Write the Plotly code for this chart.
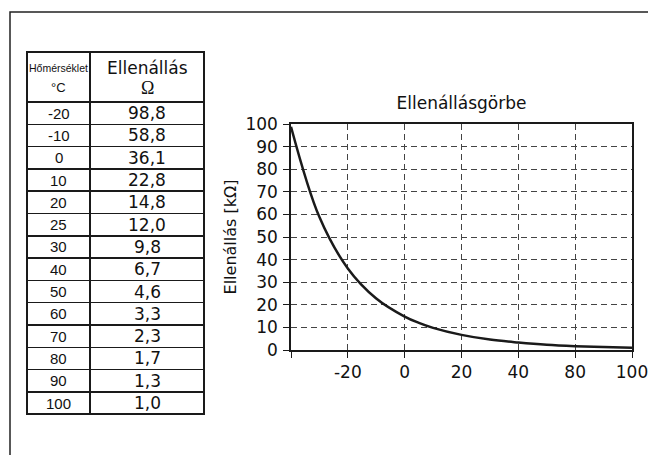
import plotly.graph_objects as go

W, H = 648, 455

temps = [-20, -10, 0, 10, 20, 25, 30, 40, 50, 60, 70, 80, 90, 100]
resist = [98.8, 58.8, 36.1, 22.8, 14.8, 12.0, 9.8, 6.7, 4.6, 3.3, 2.3, 1.7, 1.3, 1.0]
resist_txt = ["98,8", "58,8", "36,1", "22,8", "14,8", "12,0", "9,8", "6,7", "4,6", "3,3", "2,3", "1,7", "1,3", "1,0"]
header_top = ["Hőmérséklet", "Ellenállás"]
header_unit = ["°C", "Ω"]
x_tickvals = [-20, 0, 20, 40, 60, 80, 100]
x_ticktext = ["", "-20", "0", "20", "40", "80", "100"]
y_tickvals = list(range(0, 101, 10))

NARROW = "Liberation Sans Narrow, Arial Narrow, Liberation Sans, Arial, sans-serif"
SANS = "DejaVu Sans, Verdana, sans-serif"
SERIF = "Liberation Serif, DejaVu Serif, serif"

def px(x):
    return x / W

def py(y):
    return 1 - y / H

T_LEFT, T_MID, T_RIGHT, T_TOP = 27, 90, 204, 52
HEAD_H, ROW_H = 50, 22.3
T_BOTTOM = T_TOP + HEAD_H + ROW_H * len(temps)

fig = go.Figure()

# table grid (text drawn as annotations for exact vertical centring)
fig.add_trace(go.Table(
    domain=dict(x=[px(T_LEFT), px(T_RIGHT)], y=[py(T_BOTTOM + 4), py(T_TOP)]),
    columnwidth=[T_MID - T_LEFT, T_RIGHT - T_MID],
    header=dict(values=["", ""], height=HEAD_H,
                line=dict(color="#1a1a1a", width=1.5), fill=dict(color="white")),
    cells=dict(values=[[""] * len(temps), [""] * len(resist_txt)], height=ROW_H,
               line=dict(color="#1a1a1a", width=1.5), fill=dict(color="white")),
    hoverinfo="skip",
))

col_centers = [(T_LEFT + T_MID) / 2, (T_MID + T_RIGHT) / 2]
col_fonts = [dict(family=NARROW, size=15, color="#111"), dict(family=SANS, size=17, color="#111")]
annotations = []
for i, (top, unit) in enumerate(zip(header_top, header_unit)):
    annotations.append(dict(
        text=top, x=px(col_centers[i]), y=py(T_TOP + 16),
        xref="paper", yref="paper", xanchor="center", yanchor="middle", showarrow=False,
        font=dict(family=NARROW if i == 0 else SANS, size=10.5 if i == 0 else 17, color="#111")))
    annotations.append(dict(
        text=unit, x=px(col_centers[i]), y=py(T_TOP + 36),
        xref="paper", yref="paper", xanchor="center", yanchor="middle", showarrow=False,
        font=dict(family=NARROW if i == 0 else SERIF, size=13 if i == 0 else 18, color="#111")))

for r, (t, v) in enumerate(zip(temps, resist_txt)):
    yc = T_TOP + HEAD_H + ROW_H * (r + 0.5)
    for i, txt in enumerate([str(t), v]):
        annotations.append(dict(
            text=txt, x=px(col_centers[i]), y=py(yc),
            xref="paper", yref="paper", xanchor="center", yanchor="middle", showarrow=False,
            font=col_fonts[i]))

fig.add_trace(go.Scatter(
    x=temps, y=resist, mode="lines",
    line=dict(color="#1a1a1a", width=2.5, shape="spline", smoothing=1.0),
    hoverinfo="skip", showlegend=False,
    xaxis="x", yaxis="y",
))

axis_common = dict(
    automargin=False,
    showline=True, linecolor="#1a1a1a", linewidth=1.5, mirror=True,
    ticks="outside", ticklen=6, tickcolor="#1a1a1a", tickwidth=1,
    showgrid=True, gridcolor="#444", gridwidth=1, griddash="6px,4px",
    zeroline=False, ticklabeloverflow="allow",
    tickfont=dict(family=SANS, size=17, color="#111"),
)

fig.update_layout(
    width=W, height=H,
    margin=dict(l=0, r=0, t=0, b=0, autoexpand=False),
    paper_bgcolor="white", plot_bgcolor="white",
    showlegend=False,
    title=dict(text="Ellenállásgörbe", x=px(461.5), y=py(103), xanchor="center", yanchor="middle",
               xref="paper", yref="paper",
               font=dict(family=SANS, size=17, color="#111")),
    xaxis=dict(domain=[px(291), px(632)], range=[-20, 100], tickmode="array",
               tickvals=x_tickvals, ticktext=x_ticktext, **axis_common),
    yaxis=dict(domain=[py(350), py(124)], range=[0, 100], tickmode="array",
               tickvals=y_tickvals, ticklabelstandoff=2,
               title=dict(text="Ellenállás [kΩ]", standoff=5,
                          font=dict(family=SANS, size=16, color="#111")),
               **axis_common),
    annotations=annotations,
    shapes=[dict(type="rect", xref="paper", yref="paper",
                 x0=px(10), x1=1.02, y0=-0.02, y1=py(12),
                 line=dict(color="#222", width=1.5), fillcolor="rgba(0,0,0,0)", layer="below")],
)

fig.write_html("out.html", config={"displayModeBar": False},
               post_script="document.body.style.margin='0';document.body.style.overflow='hidden';")
